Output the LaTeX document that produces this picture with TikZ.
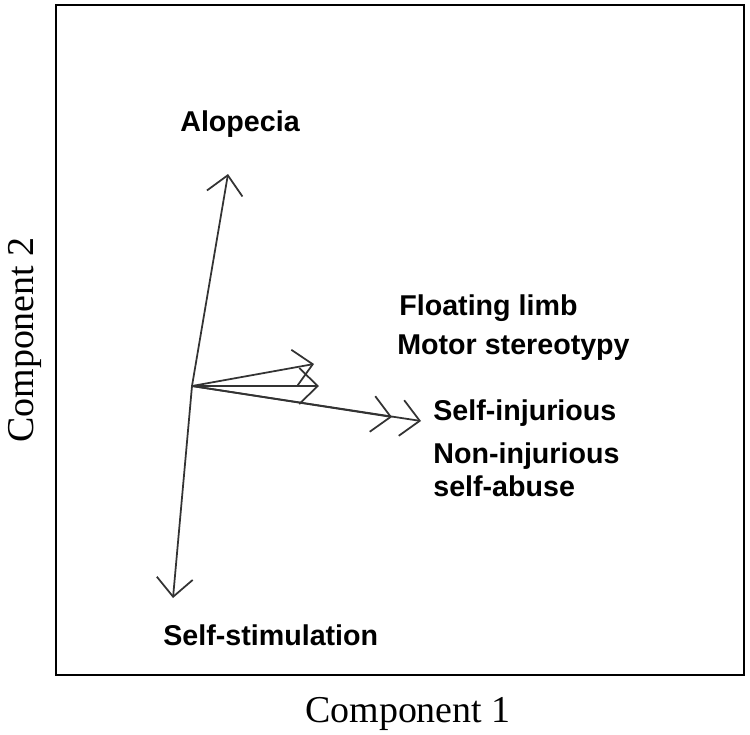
\documentclass[tikz,border=0pt]{standalone}
\usepackage{fontspec}
\setmainfont{Liberation Serif}
\newfontfamily\loadfont{Liberation Sans}
\usetikzlibrary{positioning, arrows.meta}

\begin{document}
\begin{tikzpicture}[
  x=0.02cm, y=-0.02cm,
  loading/.style={anchor=base west, inner sep=0pt, font=\loadfont\bfseries\fontsize{16.3}{19}\selectfont},
  axislabel/.style={inner sep=0pt, font=\fontsize{21.6}{26}\selectfont},
  vec/.style={draw=black!80, line width=1pt, -{Straight Barb[length=3.7mm, width=7.2mm, line width=1pt]}}
]
\useasboundingbox (0,0) rectangle (750,734);
% Frame
\draw[line width=1.1pt] (56,5) rectangle (744,675);

% Origin and arrow ends
\coordinate (origin) at (192,386);
\coordinate (alop) at (228,174);
\coordinate (stim) at (173,598);
\coordinate (float) at (314,364);
\coordinate (motor) at (319,386);
\coordinate (noninj) at (392,417);
\coordinate (selfinj) at (421,421);

% Loadings
\draw[vec] (origin) -- (alop);
\draw[vec] (origin) -- (stim);
\draw[vec] (origin) -- (float);
\draw[vec] (origin) -- (motor);
\draw[vec] (origin) -- (noninj);
\draw[vec] (origin) -- (selfinj);

% Labels
\node[loading] (alopl) at (180,131) {Alopecia};
\node[loading] (floatl) at (399,315) {Floating limb};
\node[loading] (motorl) at (397,354) {Motor stereotypy};
\node[loading] (selfinjl) at (433,420) {Self-injurious};
\node[loading] (noninjl) at (433,463) {Non-injurious};
\node[loading] (abusel) at (433,496) {self-abuse};
\node[loading] (stiml) at (163,645) {Self-stimulation};

% Axis titles
\node[axislabel, anchor=base] (xlab) at (408,722) {Component 1};
\node[axislabel, anchor=base, rotate=90] (ylab) at (33,340) {Component 2};
\end{tikzpicture}
\end{document}
